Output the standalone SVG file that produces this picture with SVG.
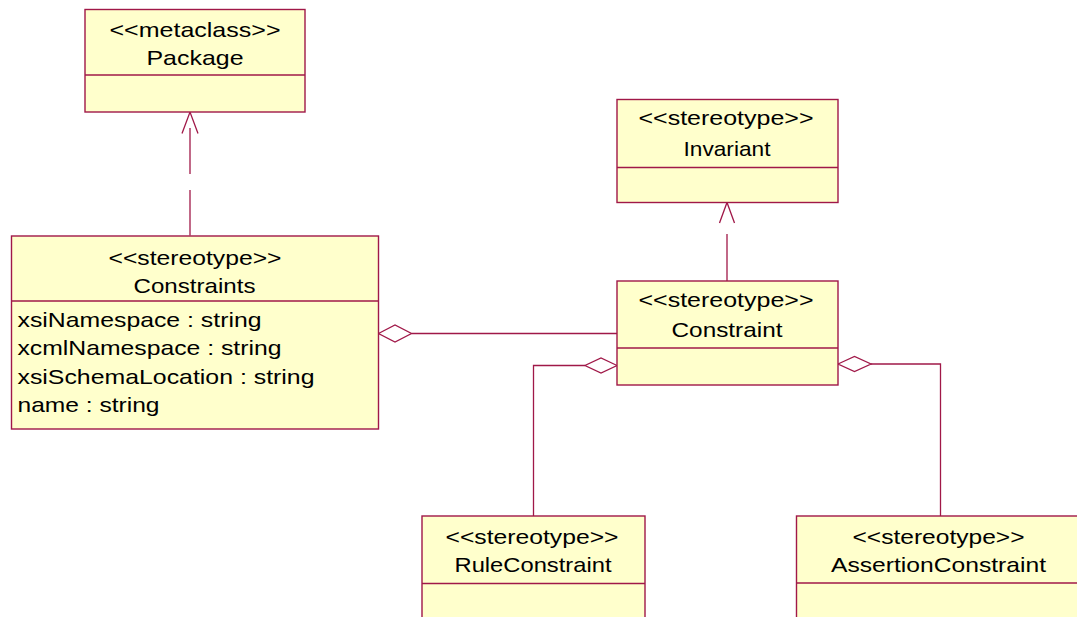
<svg xmlns="http://www.w3.org/2000/svg" width="1077" height="617" viewBox="0 0 1077 617">
<style>
.box{fill:#FFFFCC;stroke:#A01848;stroke-width:1.4}
.div{stroke:#A01848;stroke-width:1.4;fill:none}
.ln{stroke:#A01848;stroke-width:1.3;fill:none}
.dia{stroke:#A01848;stroke-width:1.3;fill:#FFFFFF}
.t{font-family:"Liberation Sans",Arial,sans-serif;font-size:21px;fill:#000;text-anchor:middle}
.a{font-family:"Liberation Sans",Arial,sans-serif;font-size:21px;fill:#000;text-anchor:start}
</style>
<rect width="1077" height="617" fill="#FFFFFF"/>
<g id="connectors">
  <line class="ln" x1="190" y1="235.5" x2="190" y2="190"/>
  <line class="ln" x1="190" y1="174" x2="190" y2="128"/>
  <polyline class="ln" points="182,133.5 190,112 198,133.5"/>
  <line class="ln" x1="727" y1="281" x2="727" y2="234"/>
  <polyline class="ln" points="719.5,223 727,202.5 734.5,223"/>
  <line class="ln" x1="411.5" y1="333.5" x2="617" y2="333.5"/>
  <polygon class="dia" points="378.5,333.5 395,325 411.5,333.5 395,342"/>
  <polyline class="ln" points="585,365.5 533.5,365.5 533.5,516"/>
  <polygon class="dia" points="617,365.5 601,358 585,365.5 601,373"/>
  <polyline class="ln" points="871,364 940.5,364 940.5,516"/>
  <polygon class="dia" points="838,364 854.5,356.5 871,364 854.5,371.5"/>
</g>
<g id="package">
  <rect class="box" x="85" y="9.5" width="220" height="102.5"/>
  <line class="div" x1="85" y1="75" x2="305" y2="75"/>
  <text class="t" x="195" y="37" textLength="171" lengthAdjust="spacingAndGlyphs">&lt;&lt;metaclass&gt;&gt;</text>
  <text class="t" x="195" y="65" textLength="97" lengthAdjust="spacingAndGlyphs">Package</text>
</g>
<g id="constraints">
  <rect class="box" x="11.5" y="236" width="367" height="193"/>
  <line class="div" x1="11.5" y1="301" x2="378.5" y2="301"/>
  <text class="t" x="195" y="265" textLength="173" lengthAdjust="spacingAndGlyphs">&lt;&lt;stereotype&gt;&gt;</text>
  <text class="t" x="194.5" y="292.5" textLength="122" lengthAdjust="spacingAndGlyphs">Constraints</text>
  <text class="a" x="17.5" y="326.5" textLength="244" lengthAdjust="spacingAndGlyphs">xsiNamespace : string</text>
  <text class="a" x="17.5" y="355" textLength="264" lengthAdjust="spacingAndGlyphs">xcmlNamespace : string</text>
  <text class="a" x="17.5" y="383.5" textLength="297" lengthAdjust="spacingAndGlyphs">xsiSchemaLocation : string</text>
  <text class="a" x="17.5" y="411.5" textLength="142" lengthAdjust="spacingAndGlyphs">name : string</text>
</g>
<g id="invariant">
  <rect class="box" x="617" y="99.5" width="221" height="103"/>
  <line class="div" x1="617" y1="167.5" x2="838" y2="167.5"/>
  <text class="t" x="726" y="125" textLength="175" lengthAdjust="spacingAndGlyphs">&lt;&lt;stereotype&gt;&gt;</text>
  <text class="t" x="727" y="155.5" textLength="87" lengthAdjust="spacingAndGlyphs">Invariant</text>
</g>
<g id="constraint">
  <rect class="box" x="617" y="281" width="221" height="104"/>
  <line class="div" x1="617" y1="348" x2="838" y2="348"/>
  <text class="t" x="726" y="306.5" textLength="175" lengthAdjust="spacingAndGlyphs">&lt;&lt;stereotype&gt;&gt;</text>
  <text class="t" x="727" y="336.5" textLength="111" lengthAdjust="spacingAndGlyphs">Constraint</text>
</g>
<g id="ruleconstraint">
  <rect class="box" x="422" y="516" width="223" height="130"/>
  <line class="div" x1="422" y1="583.5" x2="645" y2="583.5"/>
  <text class="t" x="532" y="543.5" textLength="173" lengthAdjust="spacingAndGlyphs">&lt;&lt;stereotype&gt;&gt;</text>
  <text class="t" x="533" y="572" textLength="157" lengthAdjust="spacingAndGlyphs">RuleConstraint</text>
</g>
<g id="assertionconstraint">
  <rect class="box" x="796.5" y="516" width="290" height="130"/>
  <line class="div" x1="796.5" y1="583" x2="1086" y2="583"/>
  <text class="t" x="938.5" y="543.5" textLength="172" lengthAdjust="spacingAndGlyphs">&lt;&lt;stereotype&gt;&gt;</text>
  <text class="t" x="938.5" y="572" textLength="215" lengthAdjust="spacingAndGlyphs">AssertionConstraint</text>
</g>
</svg>
